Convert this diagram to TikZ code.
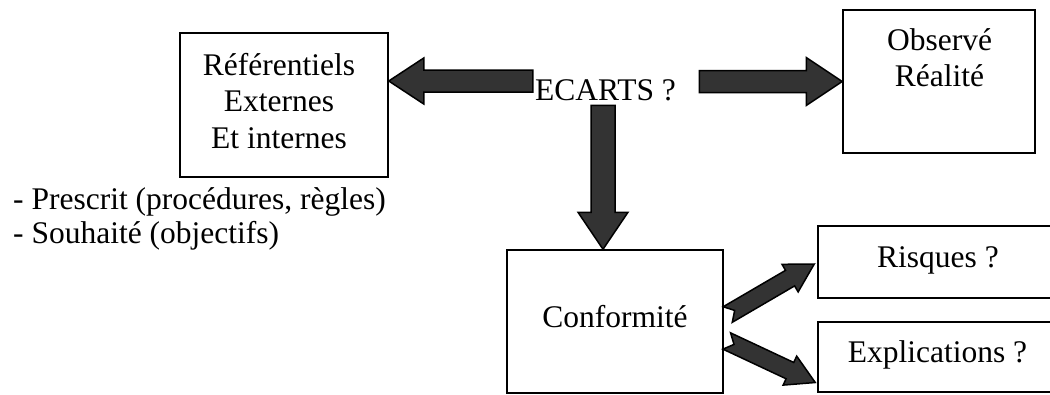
\documentclass[tikz,border=0pt]{standalone}
\usepackage{fontspec}
\setmainfont{Liberation Serif}
\usetikzlibrary{calc}
\definecolor{arrowgray}{HTML}{333333}
\tikzset{
    box/.style={draw, line width=1.5pt, inner sep=0pt},
    txt/.style={inner sep=0pt, font=\fontsize{31.5}{36.5}\selectfont, align=center},
    blockarrow/.style={draw, fill=arrowgray, line width=1.5pt, line join=miter}
}
% [notch]{from}{to}{half shaft}{half head}{head length}
\newcommand{\fatarrow}[6][0]{
    \path #2 coordinate (fa-s) #3 coordinate (fa-t);
    \path ($(fa-t)!#6pt!(fa-s)$) coordinate (fa-h) ($(fa-s)!#1pt!(fa-t)$) coordinate (fa-n);
    \draw[blockarrow] ($(fa-s)!#4pt!90:(fa-t)$) -- ($(fa-h)!#4pt!90:(fa-t)$) -- ($(fa-h)!#5pt!90:(fa-t)$)
        -- (fa-t) -- ($(fa-h)!#5pt!-90:(fa-t)$) -- ($(fa-h)!#4pt!-90:(fa-t)$) -- ($(fa-s)!#4pt!-90:(fa-t)$)
        -- (fa-n) -- cycle;
}
\begin{document}
\begin{tikzpicture}[x=1pt,y=-1pt]
                \useasboundingbox (0,0) rectangle (1050,394);
                \clip (0,0) rectangle (1050,394);
                \node[box, minimum width=208, minimum height=144] (ref) at (284,105) {};
                \node[txt, anchor=north] (reftxt) at (279,53) {Référentiels\\Externes\\Et internes};
                \node[box, minimum width=192, minimum height=143] (obs) at (939,81.5) {};
                \node[txt, anchor=north] (obstxt) at (939.5,28) {Observé\\Réalité};
                \node[txt, anchor=base west] (ecarts) at (535,100) {ECARTS ?};
                \node[box, minimum width=216, minimum height=143] (conf) at (615,321.5) {};
                \node[txt, anchor=base] (conftxt) at (615,327) {Conformité};
                \node[box, minimum width=240, minimum height=72] (risques) at (938,262) {};
                \node[txt, anchor=base] (risquestxt) at (938,267) {Risques ?};
                \node[box, minimum width=240, minimum height=70] (expl) at (938,357) {};
                \node[txt, anchor=base] (expltxt) at (937.5,362) {Explications ?};
                \node[txt, anchor=base west] (prescrit) at (13,209) {- Prescrit (procédures, règles)};
                \node[txt, anchor=base west] (souhaite) at (13,243) {- Souhaité (objectifs)};
                \fatarrow{($(ref.east)+(144,-24)$)}{($(ref.east)+(0,-24)$)}{11}{23}{35}
                \fatarrow{($(obs.west)+(-143,0)$)}{(obs.west)}{11}{24}{36}
                \fatarrow{($(conf.north)+(-12,-144)$)}{($(conf.north)+(-12,0)$)}{12}{25}{37}
                \fatarrow[8]{($(conf.east)+(4,-7)$)}{($(risques.west)+(-3,2)$)}{9}{16}{28}
                \fatarrow[8]{($(conf.east)+(3,19.5)$)}{($(expl.west)+(-2,25.5)$)}{9}{16}{28}
\end{tikzpicture}
\end{document}
